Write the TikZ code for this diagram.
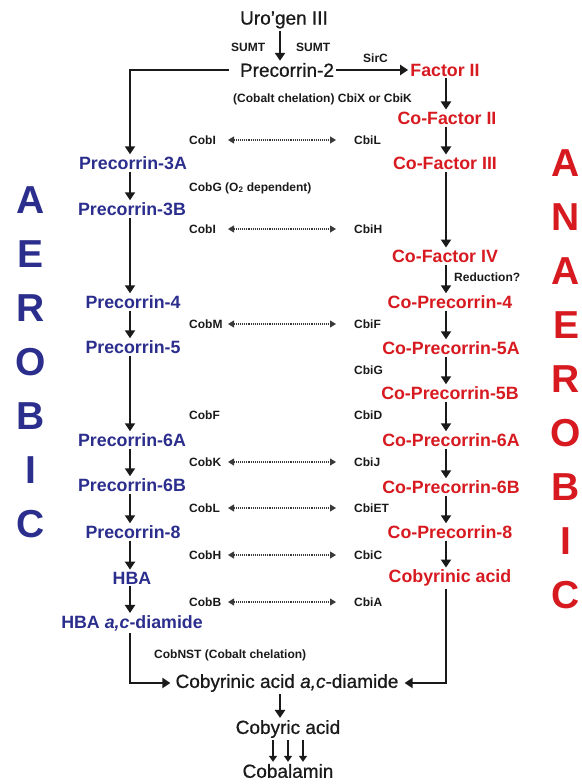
\documentclass[tikz,border=0pt]{standalone}
\usepackage{fontspec}
\setmainfont{Liberation Sans}
\newfontfamily\cmpface{Liberation Sans}[FakeBold=0.7]
\usetikzlibrary{arrows.meta}
\definecolor{pathink}{HTML}{1A1A1A}
\definecolor{aerobicblue}{HTML}{2B2E8C}
\definecolor{anaerobicred}{HTML}{D71920}
\definecolor{pairgrey}{HTML}{3A3A3A}
\newcommand{\cmpfont}{\cmpface\fontsize{19}{22}\selectfont}
\newcommand{\pathfont}{\fontsize{17.8}{20}\selectfont\bfseries}
\newcommand{\enzfont}{\fontsize{12}{14}\selectfont\bfseries}

\begin{document}
\begin{tikzpicture}[x=1pt, y=-1pt,
  compound/.style={inner sep=2pt, font=\cmpfont, text=pathink},
  aerobic/.style={inner sep=2pt, font=\pathfont, text=aerobicblue},
  anaerobic/.style={inner sep=2pt, font=\pathfont, text=anaerobicred},
  enzyme/.style={inner sep=1pt, anchor=west, font=\enzfont, text=pathink},
  bigword/.style={inner sep=0pt, align=center, font=\fontsize{39}{54}\selectfont\bfseries},
  flow/.style={draw=pathink, line width=2.4pt, -{Triangle[length=8pt,width=10pt]}},
  shortflow/.style={draw=pathink, line width=2.2pt, -{Triangle[length=6pt,width=8pt]}},
  pairline/.style={draw=pairgrey, densely dotted, line width=1.1pt,
    {Triangle[length=6pt,width=7pt]}-{Triangle[length=6pt,width=7pt]}}]

  \useasboundingbox (0,0) rectangle (581,784);

  %% columns of the two pathways
  \coordinate (aerx) at (130,0);
  \coordinate (anx) at (446,0);
  \coordinate (midx) at (280,0);
  \coordinate (dotl) at (228,0);
  \coordinate (dotr) at (336,0);

  %% common start
  \node[compound] (uro) at (284,20) {Uro’gen III};
  \node[enzyme] (sumtl) at (230,47) {SUMT};
  \node[enzyme] (sumtr) at (295,47) {SUMT};
  \node[compound] (pc2) at (287,70) {Precorrin-2};
  \node[enzyme] (sirc) at (362,58) {SirC};
  \node[anaerobic] (f2) at (445,70) {Factor II};
  \node[enzyme] (chel) at (232,99) {(Cobalt chelation) CbiX or CbiK};

  %% aerobic branch
  \node[aerobic] (p3a) at (133,163) {Precorrin-3A};
  \node[aerobic] (p3b) at (132,209) {Precorrin-3B};
  \node[aerobic] (p4) at (133,302) {Precorrin-4};
  \node[aerobic] (p5) at (133,347) {Precorrin-5};
  \node[aerobic] (p6a) at (132,440) {Precorrin-6A};
  \node[aerobic] (p6b) at (132,485) {Precorrin-6B};
  \node[aerobic] (p8) at (133,532) {Precorrin-8};
  \node[aerobic] (hba) at (132,578) {HBA};
  \node[aerobic] (hbad) at (132,623) {HBA \textit{a,c}-diamide};

  %% anaerobic branch
  \node[anaerobic] (cf2) at (447,118) {Co-Factor II};
  \node[anaerobic] (cf3) at (445,163) {Co-Factor III};
  \node[anaerobic] (cf4) at (445,256) {Co-Factor IV};
  \node[enzyme] (reduc) at (453,277) {Reduction?};
  \node[anaerobic] (cp4) at (450,302) {Co-Precorrin-4};
  \node[anaerobic] (cp5a) at (451,348) {Co-Precorrin-5A};
  \node[anaerobic] (cp5b) at (450,393) {Co-Precorrin-5B};
  \node[anaerobic] (cp6a) at (451,440) {Co-Precorrin-6A};
  \node[anaerobic] (cp6b) at (451,487) {Co-Precorrin-6B};
  \node[anaerobic] (cp8) at (450,532) {Co-Precorrin-8};
  \node[anaerobic] (cyr) at (450,578) {Cobyrinic acid};

  %% enzymes, aerobic side
  \node[enzyme] (cobi1) at (188,140) {CobI};
  \node[enzyme] (cobg) at (188,188) {CobG (O\textsubscript{2} dependent)};
  \node[enzyme] (cobi2) at (188,229) {CobI};
  \node[enzyme] (cobm) at (188,324) {CobM};
  \node[enzyme] (cobf) at (188,415) {CobF};
  \node[enzyme] (cobk) at (188,462) {CobK};
  \node[enzyme] (cobl) at (188,508) {CobL};
  \node[enzyme] (cobh) at (188,555) {CobH};
  \node[enzyme] (cobb) at (188,602) {CobB};

  %% enzymes, anaerobic side
  \node[enzyme] (cbil) at (353,140) {CbiL};
  \node[enzyme] (cbih) at (353,229) {CbiH};
  \node[enzyme] (cbif) at (353,324) {CbiF};
  \node[enzyme] (cbig) at (353,370) {CbiG};
  \node[enzyme] (cbid) at (353,415) {CbiD};
  \node[enzyme] (cbij) at (353,462) {CbiJ};
  \node[enzyme] (cbiet) at (353,508) {CbiET};
  \node[enzyme] (cbic) at (353,555) {CbiC};
  \node[enzyme] (cbia) at (353,602) {CbiA};

  %% common end
  \node[enzyme] (cobnst) at (153,655) {CobNST (Cobalt chelation)};
  \node[compound] (cyrd) at (287,683) {Cobyrinic acid \textit{a,c}-diamide};
  \node[compound] (cyb) at (288,729) {Cobyric acid};
  \node[compound] (cbl) at (288,771) {Cobalamin};

  %% side words
  \node[bigword, text=aerobicblue] (aerword) at (31,362) {A\\E\\R\\O\\B\\I\\C};
  \node[bigword, text=anaerobicred] (anaword) at (566,379) {A\\N\\A\\E\\R\\O\\B\\I\\C};

  %% main flow
  \draw[flow] (uro.south -| midx) -- (pc2.north -| midx);
  \draw[flow] (pc2) -- (f2);
  \draw[flow] ([xshift=-9pt]pc2.west) -| (p3a.north -| aerx);

  \draw[flow] (p3a.south -| aerx) -- (p3b.north -| aerx);
  \draw[flow] (p3b.south -| aerx) -- (p4.north -| aerx);
  \draw[flow] (p4.south -| aerx) -- (p5.north -| aerx);
  \draw[flow] (p5.south -| aerx) -- (p6a.north -| aerx);
  \draw[flow] (p6a.south -| aerx) -- (p6b.north -| aerx);
  \draw[flow] (p6b.south -| aerx) -- (p8.north -| aerx);
  \draw[flow] (p8.south -| aerx) -- (hba.north -| aerx);
  \draw[flow] (hba.south -| aerx) -- (hbad.north -| aerx);

  \draw[flow] (f2.south -| anx) -- (cf2.north -| anx);
  \draw[flow] (cf2.south -| anx) -- (cf3.north -| anx);
  \draw[flow] (cf3.south -| anx) -- (cf4.north -| anx);
  \draw[flow] (cf4.south -| anx) -- (cp4.north -| anx);
  \draw[flow] (cp4.south -| anx) -- (cp5a.north -| anx);
  \draw[flow] (cp5a.south -| anx) -- (cp5b.north -| anx);
  \draw[flow] (cp5b.south -| anx) -- (cp6a.north -| anx);
  \draw[flow] (cp6a.south -| anx) -- (cp6b.north -| anx);
  \draw[flow] (cp6b.south -| anx) -- (cp8.north -| anx);
  \draw[flow] (cp8.south -| anx) -- (cyr.north -| anx);

  \draw[flow, shorten >=3pt] (hbad.south -| aerx) |- (cyrd.west);
  \draw[flow, shorten >=4pt] (cyr.south -| anx) |- (cyrd.east);
  \draw[flow] (cyrd.south -| midx) -- (cyb.north -| midx);
  \draw[shortflow] ([xshift=-15pt]cyb.south) -- ([xshift=-15pt]cbl.north);
  \draw[shortflow] (cyb.south) -- (cbl.north);
  \draw[shortflow] ([xshift=15pt]cyb.south) -- ([xshift=15pt]cbl.north);

  %% enzyme pairs
  \draw[pairline] (cobi1 -| dotl) -- (cbil -| dotr);
  \draw[pairline] (cobi2 -| dotl) -- (cbih -| dotr);
  \draw[pairline] (cobm -| dotl) -- (cbif -| dotr);
  \draw[pairline] (cobk -| dotl) -- (cbij -| dotr);
  \draw[pairline] (cobl -| dotl) -- (cbiet -| dotr);
  \draw[pairline] (cobh -| dotl) -- (cbic -| dotr);
  \draw[pairline] (cobb -| dotl) -- (cbia -| dotr);

\end{tikzpicture}
\end{document}
